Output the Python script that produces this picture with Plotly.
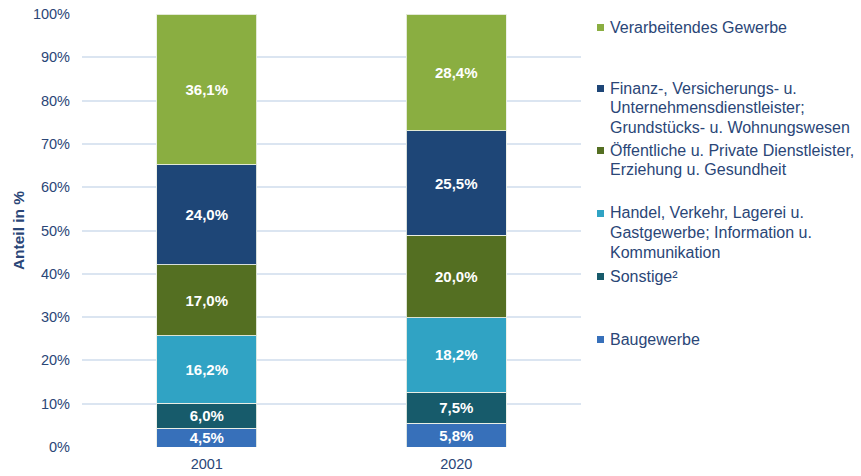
import plotly.graph_objects as go

# ---- data ----
years = ["2001", "2020"]
baugewerbe = [4.5, 5.8]
sonstige = [6.0, 7.5]
handel = [16.2, 18.2]
oeffentliche = [17.0, 20.0]
finanz = [24.0, 25.5]
verarbeitendes = [36.1, 28.4]

series_names = [
    "Baugewerbe",
    "Sonstige²",
    "Handel, Verkehr, Lagerei u.<br>Gastgewerbe; Information u.<br>Kommunikation",
    "Öffentliche u. Private Dienstleister,<br>Erziehung u. Gesundheit",
    "Finanz-, Versicherungs- u.<br>Unternehmensdienstleister;<br>Grundstücks- u. Wohnungswesen",
    "Verarbeitendes Gewerbe",
]
series_values = [baugewerbe, sonstige, handel, oeffentliche, finanz, verarbeitendes]
series_colors = ["#3770ba", "#175b6b", "#30a3c4", "#546f22", "#1e4677", "#8aae41"]
y_ticks = [0, 10, 20, 30, 40, 50, 60, 70, 80, 90, 100]

# ---- layout constants ----
W, H = 861, 476
ML, MR, MT, MB = 82, 280, 14, 29
PW, PH = W - ML - MR, H - MT - MB
FONT = "Liberation Sans, Arial, sans-serif"
TXT = "#2a4677"

def px_x(x):
    return (x - ML) / PW

def px_y(y):
    return (H - MB - y) / PH

fig = go.Figure()
for name, vals, col in zip(series_names, series_values, series_colors):
    fig.add_trace(go.Bar(
        x=years, y=vals, name=name,
        marker=dict(color=col, line=dict(color="rgba(235,240,230,0.9)", width=1)),
        text=[f"{v:.1f}".replace(".", ",") + "%" for v in vals],
        textposition="inside", insidetextanchor="middle", textangle=0,
        constraintext="none",
        textfont=dict(family=FONT, size=15, color="white", weight="bold"),
        showlegend=False,
    ))

# legend as annotations (irregular spacing as in reference), one per text line
legend_first_line_y = {5: 27, 4: 88, 3: 150, 2: 213, 1: 276, 0: 339}
LINE_H = 19.5
for idx, ytop in legend_first_line_y.items():
    for k, line in enumerate(series_names[idx].split("<br>")):
        fig.add_annotation(
            xref="paper", yref="paper", x=px_x(608), y=px_y(ytop + k * LINE_H),
            text=line, showarrow=False, xanchor="left", yanchor="middle",
            align="left", font=dict(family=FONT, size=16, color=TXT),
        )
    fig.add_shape(
        type="rect", xref="paper", yref="paper",
        x0=px_x(597), x1=px_x(604), y0=px_y(ytop + 4), y1=px_y(ytop - 3),
        fillcolor=series_colors[idx], line=dict(width=0),
    )

fig.update_layout(
    width=W, height=H,
    margin=dict(l=ML, r=MR, t=MT, b=MB, autoexpand=False),
    barmode="stack", barnorm="percent", bargap=0.6,
    plot_bgcolor="white", paper_bgcolor="white",
    font=dict(family=FONT, color=TXT),
    xaxis=dict(
        type="category", showgrid=False, zeroline=False, showline=False,
        ticks="", tickfont=dict(size=14.5, color=TXT), automargin=False,
        ticklabelstandoff=6,
    ),
    yaxis=dict(
        range=[0, 100], tickvals=y_ticks, ticktext=[f"{t}%" for t in y_ticks],
        showgrid=True, gridcolor="#dbe5f1", gridwidth=1.5,
        zeroline=False, showline=False, ticks="", automargin=False,
        tickfont=dict(size=14.5, color=TXT), ticklabelstandoff=11,
        title=dict(text="<b>Anteil in %</b>", font=dict(size=15.5, color=TXT), standoff=4),
    ),
)

fig.write_html(
    "out.html",
    config={"displayModeBar": False},
    post_script="document.body.style.margin='0';document.body.style.overflow='hidden';",
)
